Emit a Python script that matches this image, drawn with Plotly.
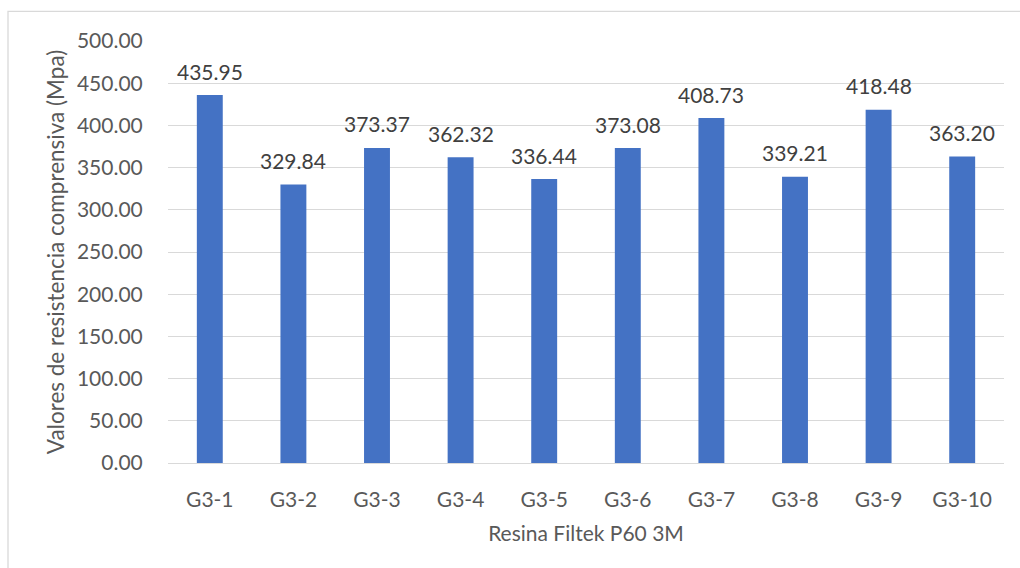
import plotly.graph_objects as go

categories = ["G3-1", "G3-2", "G3-3", "G3-4", "G3-5", "G3-6", "G3-7", "G3-8", "G3-9", "G3-10"]
values = [435.95, 329.84, 373.37, 362.32, 336.44, 373.08, 408.73, 339.21, 418.48, 363.20]
y_ticks = [0, 50, 100, 150, 200, 250, 300, 350, 400, 450, 500]

FONT = "Lato"
BAR_COLOR = "#4472C4"
AXIS_TEXT = "#595959"

fig = go.Figure(
    go.Bar(
        x=categories,
        y=values,
        marker=dict(color=BAR_COLOR, line=dict(width=0)),
        hoverinfo="x+y",
    )
)

# value labels above each bar
for cat, v in zip(categories, values):
    fig.add_annotation(
        x=cat, y=v, xref="x", yref="y",
        text=f"{v:.2f}",
        showarrow=False,
        yanchor="middle",
        yshift=24,
        font=dict(family=FONT, size=21, color="#404040"),
    )

fig.update_layout(
    width=1020,
    height=568,
    margin=dict(l=168, r=16, t=41, b=105),
    paper_bgcolor="white",
    plot_bgcolor="white",
    bargap=0.69,
    showlegend=False,
    font=dict(family=FONT, color=AXIS_TEXT),
    xaxis=dict(
        showgrid=False,
        showline=False,
        ticks="outside",
        ticklen=18,
        tickcolor="rgba(0,0,0,0)",
        tickfont=dict(family=FONT, size=21, color=AXIS_TEXT),
        title=dict(text="Resina Filtek P60 3M", font=dict(family=FONT, size=21, color=AXIS_TEXT), standoff=16),
    ),
    yaxis=dict(
        range=[0, 500],
        tickvals=y_ticks,
        ticktext=[f"{v:.2f}" for v in y_ticks],
        showgrid=True,
        gridcolor="#D9D9D9",
        gridwidth=1.3,
        zeroline=True,
        zerolinecolor="#D9D9D9",
        zerolinewidth=1.3,
        showline=False,
        ticks="outside",
        ticklen=20,
        tickcolor="rgba(0,0,0,0)",
        tickfont=dict(family=FONT, size=21, color=AXIS_TEXT),
        title=dict(text="Valores de resistencia comprensiva (Mpa)", font=dict(family=FONT, size=22.5, color=AXIS_TEXT), standoff=6),
    ),
    shapes=[
        dict(
            type="rect", xref="paper", yref="paper",
            x0=-160 / 836, x1=1.02, y0=-0.3, y1=1.07,
            line=dict(color="#D9D9D9", width=1.3),
            fillcolor="rgba(0,0,0,0)",
            layer="below",
        )
    ],
)

fig.write_html("out.html")
